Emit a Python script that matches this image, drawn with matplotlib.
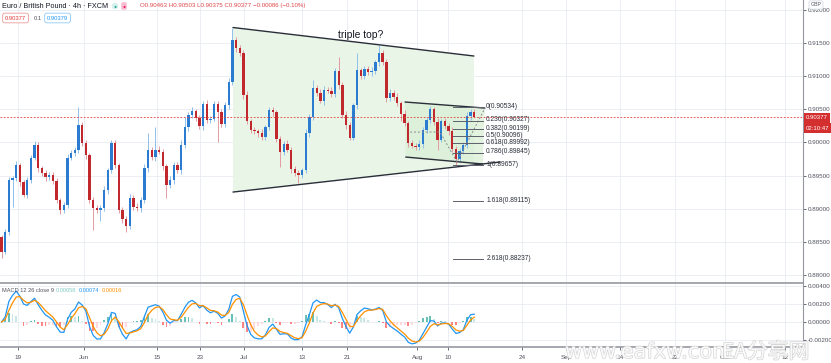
import matplotlib
matplotlib.use("Agg")
import matplotlib.pyplot as plt
import matplotlib.patheffects as pe
from matplotlib.patches import Polygon
import numpy as np
import pandas as pd

plt.rcParams['font.family'] = ['Liberation Sans', 'DejaVu Sans']

# ---------------- data ----------------
# x axis unit: trading day index (day 0 = Mon 18 May 2020); two bars per day
bar_start_day = -1.25
bar_step_day = 0.5
first_open = 0.8857
closes = [
    0.8835, 0.8865, 0.8943, 0.8946, 0.8966, 0.8940, 0.8921, 0.8943, 0.8977, 0.8996,
    0.8961, 0.8954, 0.8948, 0.8951, 0.8942, 0.8913, 0.8898, 0.8906, 0.8977, 0.8984,
    0.8989, 0.9026, 0.8999, 0.8981, 0.8913, 0.8901, 0.8898, 0.8901, 0.8928, 0.8958,
    0.8999, 0.8966, 0.8898, 0.8885, 0.8874, 0.8916, 0.8903, 0.8901, 0.8913, 0.8961,
    0.8989, 0.8978, 0.8989, 0.8986, 0.8964, 0.8936, 0.8943, 0.8966, 0.8958, 0.8996,
    0.9023, 0.9041, 0.9047, 0.9037, 0.9025, 0.9058, 0.9034, 0.9036, 0.9058, 0.9046,
    0.9028, 0.9056, 0.9091, 0.9155, 0.9142, 0.9135, 0.9072, 0.9032, 0.9019, 0.9017,
    0.9014, 0.9008, 0.9023, 0.9049, 0.9046, 0.9005, 0.8986, 0.8998, 0.8989, 0.8960,
    0.8954, 0.8951, 0.8958, 0.9014, 0.9038, 0.9082, 0.9075, 0.9063, 0.9079, 0.9078,
    0.9073, 0.9108, 0.9087, 0.9041, 0.9026, 0.9007, 0.9056, 0.9109, 0.9100, 0.9111,
    0.9106, 0.9108, 0.9121, 0.9135, 0.9121, 0.9067, 0.9075, 0.9069, 0.9059, 0.9043,
    0.9029, 0.8999, 0.8995, 0.8993, 0.8998, 0.9019, 0.9034, 0.9050, 0.9031, 0.9004,
    0.9032, 0.9025, 0.9017, 0.8990, 0.8975, 0.8987, 0.8996, 0.9040, 0.9046, 0.90377,
]
# wick lengths in pips beyond the candle body
wick_up = [
    3, 4, 5, 4, 6, 3, 4, 5, 4, 6,
    4, 3, 5, 4, 4, 5, 3, 4, 6, 4,
    4, 27, 5, 4, 3, 4, 5, 4, 6, 4,
    5, 4, 3, 4, 4, 6, 4, 5, 4, 6,
    25, 4, 34, 5, 4, 3, 6, 4, 5, 8,
    15, 5, 6, 4, 5, 4, 6, 4, 5, 4,
    4, 5, 6, 17, 4, 5, 4, 6, 4, 5,
    4, 6, 4, 5, 4, 3, 5, 4, 6, 4,
    5, 4, 4, 6, 5, 12, 4, 5, 6, 4,
    5, 4, 21, 4, 6, 5, 4, 26, 4, 5,
    4, 6, 4, 12, 4, 5, 6, 4, 5, 4,
    6, 4, 5, 4, 6, 4, 5, 5, 4, 6,
    4, 5, 4, 6, 4, 5, 4, 6, 4, 4,
]
wick_dn = [
    9, 4, 5, 40, 4, 6, 4, 5, 4, 4,
    5, 4, 6, 4, 5, 4, 6, 4, 5, 4,
    4, 5, 4, 6, 4, 33, 5, 16, 4, 6,
    4, 5, 4, 6, 9, 4, 5, 4, 6, 4,
    5, 4, 6, 4, 5, 20, 4, 6, 4, 5,
    4, 6, 4, 5, 4, 6, 4, 5, 4, 45,
    5, 4, 6, 4, 5, 4, 6, 4, 5, 4,
    6, 4, 5, 4, 6, 4, 23, 5, 4, 6,
    4, 12, 5, 4, 6, 4, 5, 4, 6, 4,
    5, 4, 6, 4, 5, 3, 4, 6, 4, 5,
    4, 6, 4, 5, 4, 6, 4, 5, 4, 10,
    4, 6, 4, 5, 4, 6, 4, 5, 4, 15,
    4, 5, 6, 4, 9, 4, 5, 4, 6, 0,
]

# date axis labels (trading-day positions)
tick_days = [1, 10, 20, 25.8, 31.8, 39.7, 45.9, 55.5, 59.7, 69.8, 75.8, 83.1, 90.6, 97.4, 105.6]
tick_labels = ['19', 'Jun', '15', '23', 'Jul', '13', '21', 'Aug', '10', '24', 'Sep', '14', '22', 'Oct', '12']

price_ticks = [0.880, 0.885, 0.890, 0.895, 0.900, 0.905, 0.910, 0.915, 0.920]
macd_ticks = [-0.002, 0.000, 0.002, 0.004]

last_price = 0.90377
header_title = "Euro / British Pound \u00b7 4h \u00b7 FXCM"
header_ohlc = "O0.90463 H0.90503 L0.90375 C0.90377 \u22120.00086 (\u22120.10%)"
bid_price, spread, ask_price = "0.90377", "0.1", "0.90379"
countdown = "02:10:47"
macd_legend = "MACD 12 26 close 9"
macd_values = ["0.00058", "0.00074", "0.00016"]

# drawings (day, price)
triangle_top = [(30.33, 0.91734), (63.2, 0.91304)]
triangle_bottom = [(30.33, 0.89252), (66.75, 0.89705)]
triangle_fill = [(30.33, 0.91734), (63.2, 0.91304), (63.2, 0.89660), (30.33, 0.89252)]
channel_top = [(53.8, 0.90610), (64.7, 0.90519)]
channel_bottom = [(53.9, 0.89780), (64.4, 0.89675)]
projection_path = [(54.5, 0.90157), (58.57, 0.90157), (60.89, 0.89705), (64.71, 0.90519)]
fib_ratios = ['0', '0.236', '0.382', '0.5', '0.618', '0.786', '1', '1.618', '2.618']
fib_prices = [0.90534, 0.90327, 0.90199, 0.90096, 0.89992, 0.89845, 0.89657, 0.89115, 0.88237]
fib_day_range = (60.34, 64.43)
triple_top_label = ("triple top?", 47.7, 0.91621)

# ---------------- figure ----------------
W, H = 831, 363
fig = plt.figure(figsize=(W / 100, H / 100), dpi=100)
fig.patch.set_facecolor('white')


def fx(x):
    return x / W


def fy(y):
    return 1 - y / H


ax = fig.add_axes([0, fy(283), fx(803), 283 / H])
axm = fig.add_axes([0, fy(347), fx(803), (347 - 284) / H], sharex=ax)

ax.set_xlim(-1.46, 108.1)
ax.set_ylim(0.87880, 0.92149)
axm.set_ylim(-0.00282, 0.00428)

grid_c = '#e8ebf1'
axis_c = '#9598a1'
text_c = '#50535e'
for a in (ax, axm):
    a.set_axisbelow(True)
    for s in ('top', 'left'):
        a.spines[s].set_visible(False)
    a.spines['right'].set_color(axis_c)
    a.spines['right'].set_linewidth(0.8)
    a.spines['bottom'].set_color(axis_c)
    a.spines['bottom'].set_linewidth(1.2)
    a.yaxis.tick_right()
    a.tick_params(axis='y', labelsize=4.5, colors=text_c, length=2, pad=1.2, width=0.6)
    a.set_xticks(tick_days)
    a.grid(True, color=grid_c, lw=0.6)

ax.set_yticks(price_ticks)
ax.set_yticklabels([f"{v:.5f}" for v in price_ticks])
ax.tick_params(axis='x', length=0, labelbottom=False)
axm.set_yticks(macd_ticks)
axm.set_yticklabels([f"{v:.5f}" for v in macd_ticks])
axm.set_xticklabels(tick_labels)
axm.tick_params(axis='x', labelsize=4.6, colors=text_c, length=2.5, pad=3, width=0.6)

# ---------------- candles ----------------
c = np.array(closes)
n = len(c)
days = bar_start_day + bar_step_day * np.arange(n)
o = np.concatenate([[first_open], c[:-1]])
hi = np.maximum(o, c) + np.array(wick_up) * 1e-4
lo = np.minimum(o, c) - np.array(wick_dn) * 1e-4
up = c >= o
body_up, body_dn = '#2b7bd0', '#c0282d'
wick_upc, wick_dnc = '#8fc0ec', '#e39aa2'

# drawings under price
ax.add_patch(Polygon(triangle_fill, closed=True, facecolor='#e9f5e6', edgecolor='none', zorder=1))
ch_poly = [channel_top[0], channel_top[1], channel_bottom[1], channel_bottom[0]]
ax.add_patch(Polygon(ch_poly, closed=True, facecolor='#d9eed4', edgecolor='none', alpha=0.7, zorder=1.1))

ax.vlines(days[up], lo[up], hi[up], color=wick_upc, lw=0.7, zorder=2)
ax.vlines(days[~up], lo[~up], hi[~up], color=wick_dnc, lw=0.7, zorder=2)
ax.bar(days[up], (c - o)[up], bottom=o[up], width=0.32, color=body_up, zorder=3, linewidth=0)
ax.bar(days[~up], (c - o)[~up], bottom=o[~up], width=0.32, color=body_dn, zorder=3, linewidth=0)

# current price line
ax.axhline(last_price, color='#e53935', lw=0.6, ls=(0, (2, 2)), zorder=4)

# trend lines
line_c = '#2a2e39'
for seg in (triangle_top, triangle_bottom, channel_top, channel_bottom):
    xs, ys = zip(*seg)
    ax.plot(xs, ys, color=line_c, lw=1.0, zorder=5, solid_capstyle='round')
xs, ys = zip(*projection_path)
ax.plot(xs, ys, color='#8a8d96', lw=0.7, ls=(0, (2, 2)), zorder=5)

# fib levels
for r, p in zip(fib_ratios, fib_prices):
    ax.plot(fib_day_range, [p, p], color='#5d606b', lw=0.7, zorder=5)
    ax.text(fib_day_range[1] + 0.45, p + 0.00012, f"{r}({p:.5f})", fontsize=4.8,
            color='#2a2e39', ha='left', va='center', zorder=6)

ax.text(triple_top_label[1], triple_top_label[2], triple_top_label[0], fontsize=7.4,
        color='#131722', ha='center', va='center', zorder=6)

# ---------------- MACD ----------------
s = pd.Series(c)
macd = s.ewm(span=4, adjust=False).mean() - s.ewm(span=26 / 3, adjust=False).mean()
signal = macd.ewm(span=3, adjust=False).mean()
hist = macd - signal
prev = hist.shift(1).fillna(0)
cols = []
for h, pv in zip(hist, prev):
    if h >= 0:
        cols.append('#26a69a' if h > pv else '#b2dfdb')
    else:
        cols.append('#ff5252' if h < pv else '#ffcdd2')
axm.bar(days, hist, width=0.25, color=cols, zorder=2, linewidth=0, alpha=0.7)
axm.plot(days, macd, color='#2196f3', lw=0.9, zorder=3)
axm.plot(days, signal, color='#ff9100', lw=0.9, zorder=3)

# ---------------- header / labels ----------------
fig.text(fx(2), fy(6), header_title, fontsize=5.2, color='#131722', va='center', ha='left')
fig.text(fx(115), fy(6), '\u25cf', fontsize=3.6, color='#26a69a', va='center', ha='center',
         bbox=dict(boxstyle='circle,pad=0.15', fc='#d7f0ec', ec='none'))
fig.text(fx(124), fy(6), '\u25cf', fontsize=3.6, color='#e91e63', va='center', ha='center',
         bbox=dict(boxstyle='round,pad=0.25', fc='#f8bbd0', ec='none'))
fig.text(fx(140), fy(6), header_ohlc, fontsize=4.4, color='#e0464a', va='center', ha='left')

fig.text(fx(5), fy(18), bid_price, fontsize=4.2, color='#e53935', va='center', ha='left',
         bbox=dict(boxstyle='round,pad=0.4', fc='white', ec='#ef9a9a', lw=0.6))
fig.text(fx(34), fy(18), spread, fontsize=4.2, color=text_c, va='center', ha='left')
fig.text(fx(47), fy(18), ask_price, fontsize=4.2, color='#2196f3', va='center', ha='left',
         bbox=dict(boxstyle='round,pad=0.4', fc='white', ec='#90caf9', lw=0.6))

fig.text(fx(816), fy(5), 'GBP', fontsize=3.8, color=text_c, va='center', ha='center',
         bbox=dict(boxstyle='round,pad=0.3', fc='white', ec='#d1d4dc', lw=0.5))
fig.text(fx(806), fy(118), f"{last_price:.5f}", fontsize=4.3, color='white', va='center', ha='left',
         bbox=dict(boxstyle='square,pad=0.35', fc='#d32f2f', ec='none'))
fig.text(fx(806), fy(128), countdown, fontsize=4.3, color='white', va='center', ha='left',
         bbox=dict(boxstyle='square,pad=0.35', fc='#d32f2f', ec='none'))

# MACD legend
fig.text(fx(2), fy(290), macd_legend, fontsize=4.1, color=text_c, va='center', ha='left')
for xv, val, col in zip((56, 79, 102), macd_values, ('#80cbc4', '#2196f3', '#ff9100')):
    fig.text(fx(xv), fy(290), val, fontsize=4.1, color=col, va='center', ha='left')

# watermark
fig.text(fx(565), fy(352), "www.eafxw.com", fontsize=15, color='white', va='center', ha='left',
         family=['DejaVu Sans'], alpha=0.85,
         path_effects=[pe.withStroke(linewidth=1.0, foreground='#cfcfcf')])
fig.text(fx(722), fy(352), "EA\u5206\u4eab\u7f51", fontsize=15, color='white', va='center', ha='left',
         family=['Noto Sans CJK SC', 'DejaVu Sans'], alpha=0.85,
         path_effects=[pe.withStroke(linewidth=1.0, foreground='#cfcfcf')])

fig.savefig('out.png', dpi=100, facecolor='white')
